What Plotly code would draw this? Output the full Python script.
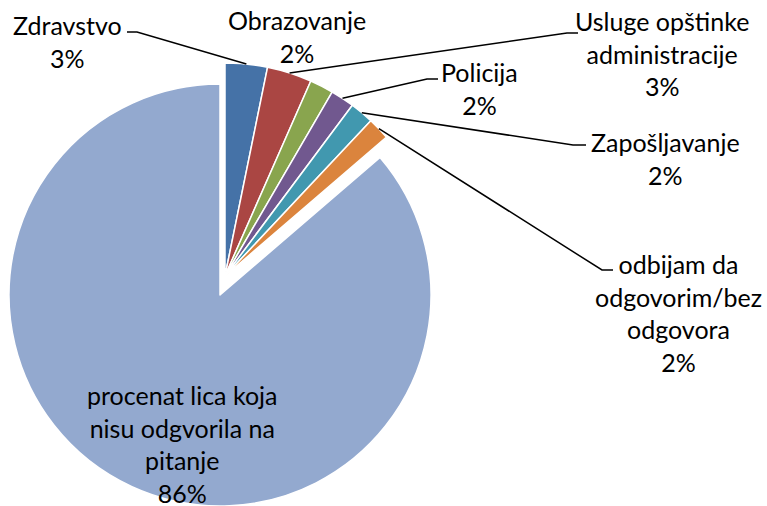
import math
import plotly.graph_objects as go

# ---- data ----
categories = ["Zdravstvo", "Usluge opštinke administracije", "Obrazovanje", "Policija",
              "Zapošljavanje", "odbijam da odgovorim/bez odgovora",
              "procenat lica koja nisu odgvorila na pitanje"]
values = [3.2, 3.4, 1.8, 1.8, 1.8, 1.7, 86.3]
colors = ["#4572A7", "#AA4643", "#89A54E", "#71588F", "#4198AF", "#DB843D", "#93A9CF"]
label_texts = ["Zdravstvo", "Usluge opštinke<br>administracije", "Obrazovanje", "Policija",
               "Zapošljavanje", "odbijam da<br>odgovorim/bez<br>odgovora",
               "procenat lica koja<br>nisu odgvorila na<br>pitanje"]

W, H = 767, 506
total = sum(values)
pct = [round(v / total * 100) for v in values]

# geometry (pixels) for the group of small slices and the exploded big slice
cxA, cyA, rA = 225, 276, 213
cxB, cyB, rB = 220, 295, 211

def px(x):
    return x / W

def py(y):
    return 1 - y / H

big_idx = 6
transparent = "rgba(0,0,0,0)"

colA = [colors[i] if i != big_idx else transparent for i in range(7)]
lwA = [1.5 if i != big_idx else 0 for i in range(7)]
colB = [colors[i] if i == big_idx else transparent for i in range(7)]
lwB = [1.5 if i == big_idx else 0 for i in range(7)]

fig = go.Figure()
fig.add_trace(go.Pie(
    labels=categories, values=values, sort=False, direction="clockwise", rotation=0,
    marker=dict(colors=colB, line=dict(color="white", width=lwB)),
    textinfo="none", hoverinfo="skip", showlegend=False,
    domain=dict(x=[px(cxB - rB), px(cxB + rB)], y=[py(cyB + rB), py(cyB - rB)]),
))
fig.add_trace(go.Pie(
    labels=categories, values=values, sort=False, direction="clockwise", rotation=0,
    marker=dict(colors=colA, line=dict(color="white", width=lwA)),
    textinfo="none", hoverinfo="skip", showlegend=False,
    domain=dict(x=[px(cxA - rA), px(cxA + rA)], y=[py(cyA + rA), py(cyA - rA)]),
))

# mid-arc anchor points of small slices, from the data
cum = 0
anchors = []
for v in values:
    mid = (cum + v / 2) / total * 2 * math.pi
    anchors.append((cxA + rA * math.sin(mid), cyA - rA * math.cos(mid)))
    cum += v

# label block centres and leader elbows (pixels)
label_pos = [(67, 42), (297, 36), (662, 53), (479, 88), (665, 158), (678, 313), (182, 444)]
label_order = [0, 2, 1, 3, 4, 5, 6]
leaders = {
    0: [(127, 32), (137, 32)],
    1: [(578, 33), (567, 33)],
    3: [(438, 79), (427, 79)],
    4: [(586, 145), (573, 145)],
    5: [(613, 270), (602, 270)],
}

font = dict(family="Lato, Open Sans, sans-serif", size=25, color="black")
for (lx, ly), i in zip(label_pos, label_order):
    fig.add_annotation(x=px(lx), y=py(ly), xref="paper", yref="paper",
                       text=f"{label_texts[i]}<br>{pct[i]}%", showarrow=False,
                       xanchor="center", yanchor="middle", align="center", font=font)

for i, pts in leaders.items():
    ax, ay = anchors[i]
    allpts = pts + [(ax, ay)]
    path = "M " + " L ".join(f"{px(x):.5f},{py(y):.5f}" for x, y in allpts)
    fig.add_shape(type="path", path=path, xref="paper", yref="paper",
                  line=dict(color="black", width=1.5))

fig.update_layout(width=W, height=H, margin=dict(l=0, r=0, t=0, b=0),
                  paper_bgcolor="white", plot_bgcolor="white", showlegend=False)
fig.write_html("out.html", config={"displayModeBar": False},
               post_script="document.body.style.margin='0';")
